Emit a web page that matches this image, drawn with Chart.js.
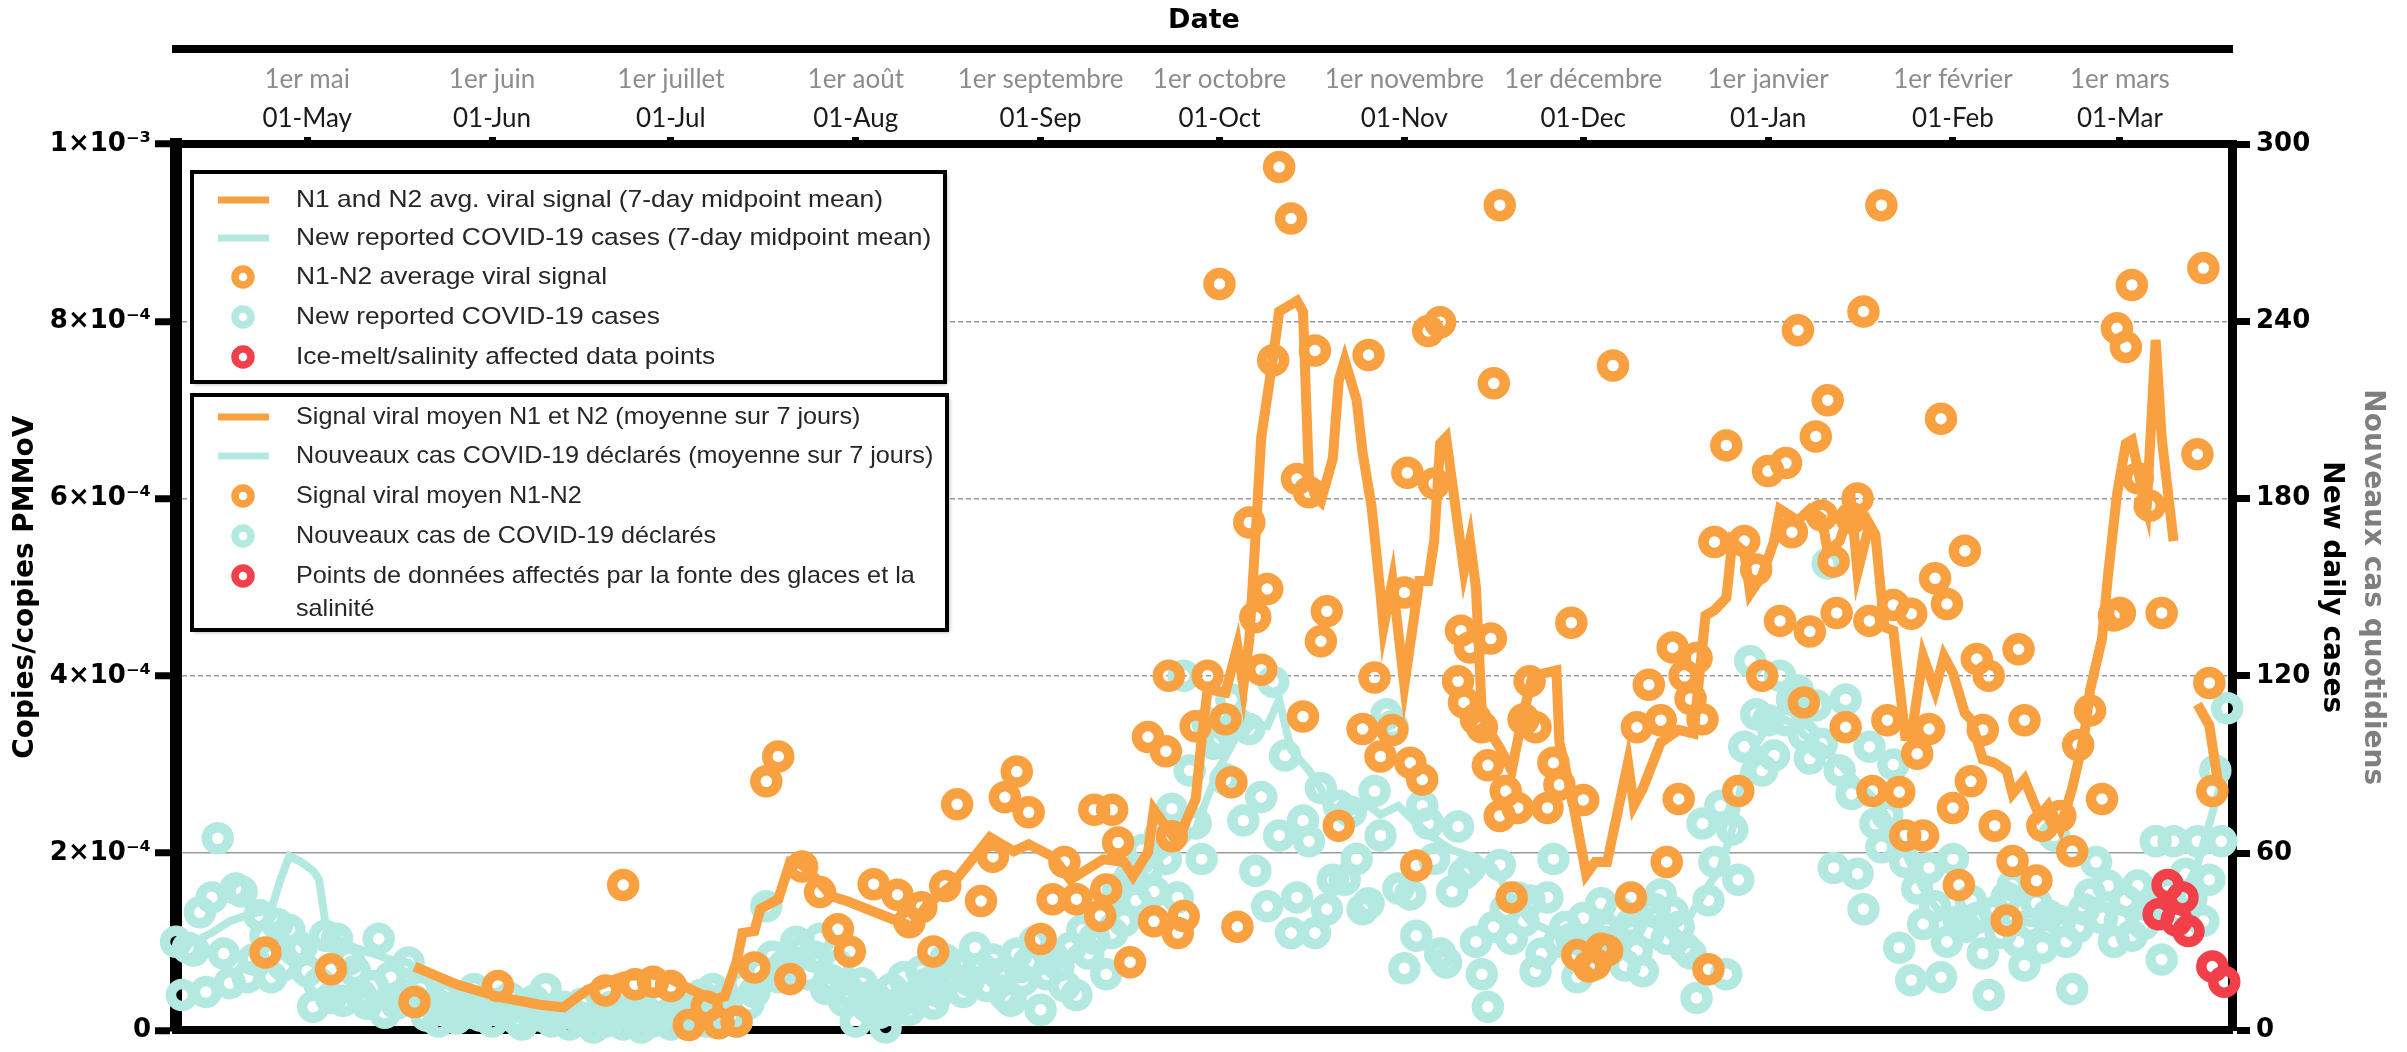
<!DOCTYPE html>
<html>
<head>
<meta charset="utf-8">
<script src="https://cdn.jsdelivr.net/npm/chart.js@4.4.1/dist/chart.umd.min.js"></script>
<style>
  html, body { margin: 0; padding: 0; background: #fff; }
  #wrap { width: 2407px; height: 1052px; position: relative; }
</style>
</head>
<body>
<div id="wrap"><canvas id="chart"></canvas></div>
<script>
// x values are days counted from 1 May 2020 (day 0)
const monthDays = [0, 31, 61, 92, 123, 153, 184, 214, 245, 276, 304];
const monthLabelsEn = ['01-May', '01-Jun', '01-Jul', '01-Aug', '01-Sep', '01-Oct', '01-Nov', '01-Dec', '01-Jan', '01-Feb', '01-Mar'];
const monthLabelsFr = ['1er mai', '1er juin', '1er juillet', '1er août', '1er septembre', '1er octobre', '1er novembre', '1er décembre', '1er janvier', '1er février', '1er mars'];
const dayMin = -22;
const dayMax = 322.8;

const signalTicks = [0, 2, 4, 6, 8, 10];      // x 10^-4
const caseTicks = [0, 60, 120, 180, 240, 300];

// N1-N2 average viral signal (copies/copies PMMoV, x 10^-4)
const signalDays = [-7, 4, 18, 32, 50, 53, 55, 58, 61, 64, 67, 69, 72, 75, 77, 79, 81, 83, 86, 89,
  91, 95, 99, 101, 103, 105, 107, 109, 113, 115, 117, 119, 121, 123, 125, 127, 129, 132, 133, 134,
  135, 136, 138, 141, 142, 144, 144.5, 145, 146, 147, 149, 151, 153, 154, 155, 156, 158, 159, 160, 161,
  162, 163, 165, 166, 167, 168, 169, 170, 171, 173, 177, 178, 179, 180, 182, 184, 184.5, 185, 186, 187,
  188, 189, 190, 193, 193.5, 194, 195, 196, 197, 198, 198.5, 199, 200, 201, 202, 203, 204, 205, 206, 200,
  208, 209, 210, 212, 213, 214, 215, 216, 217, 218, 219, 222, 223, 225, 227, 228, 229, 230, 231, 232,
  233, 234, 235, 236, 238, 240, 241, 243, 244, 245, 247, 248, 249, 250, 251, 252, 253, 254, 255, 256,
  256.5, 258, 259, 260, 261, 262, 262.5, 264, 265, 266, 267, 268, 269, 270, 271, 272, 273, 274, 275, 276,
  277, 278, 279, 280, 281, 282, 283, 285, 286, 287, 288, 290, 291, 294, 296, 297, 299, 301, 303, 303.5,
  304, 305, 306, 307, 309, 311, 317, 318, 319, 319.5];
const signalE4 = [0.88, 0.69, 0.32, 0.50, 0.45, 1.64, 0.52, 0.55, 0.50, 0.06, 0.27, 0.08, 0.10, 0.71, 2.81, 3.09, 0.58, 1.85, 1.56, 1.14,
  0.89, 1.65, 1.53, 1.22, 1.39, 0.89, 1.63, 2.55, 1.46, 1.96, 2.63, 2.92, 2.46, 1.03, 1.48, 1.90, 1.48, 2.49, 1.29, 1.59,
  2.49, 2.12, 0.77, 3.31, 1.23, 3.15, 4.00, 2.19, 1.10, 1.29, 3.43, 4.00, 8.42, 3.51, 2.80, 1.17, 5.73, 4.66, 4.07, 4.98,
  7.56, 9.74, 9.16, 6.22, 3.54, 6.07, 7.67, 4.39, 4.73, 2.31, 3.40, 7.62, 3.98, 3.09, 3.39, 4.94, 6.29, 3.02, 1.86, 2.83,
  7.89, 6.17, 7.99, 3.94, 4.51, 3.70, 4.32, 3.51, 3.42, 2.99, 4.42, 7.30, 2.42, 2.70, 1.50, 2.51, 3.51, 3.94, 3.42, 9.31,
  2.51, 3.02, 2.77, 4.60, 0.85, 2.60, 0.72, 0.75, 0.92, 0.90, 7.50, 1.50, 3.42, 3.90, 3.50, 1.90, 4.32, 2.61, 4.00, 3.74,
  4.20, 3.51, 0.69, 5.51, 6.60, 2.70, 5.52, 5.20, 4.00, 6.31, 4.62, 6.40, 5.62, 7.90, 3.70, 4.50, 6.70, 5.81, 7.11, 5.29,
  4.71, 3.42, 5.78, 6.00, 8.11, 4.62, 2.70, 9.31, 3.50, 4.80, 2.69, 2.20, 4.70, 3.12, 2.20, 3.40, 5.10, 6.90, 4.81, 2.51,
  1.64, 5.41, 2.81, 4.19, 3.39, 4.00, 2.31, 1.24, 1.91, 4.30, 3.50, 1.69, 2.31, 2.42, 2.02, 3.22, 3.61, 2.61, 4.68, 7.92,
  4.71, 7.71, 8.41, 6.23, 5.92, 4.71, 6.50, 8.60, 3.92, 2.70];

// N1 and N2 avg. viral signal, 7-day midpoint mean (x 10^-4); null = gap
const signalMeanDays = [18, 25, 32, 39, 43, 47, 53, 58, 61, 65, 68, 70, 72, 73, 75, 76, 79, 81, 83, 85.5,
  88, 90.5, 99.5, 101.5, 104, 108, 114.5, 118.5, 121, 125, 128, 133.5, 137, 138.5, 141, 142, 144, 146, 147.5, 149,
  150, 151, 154, 156, 157, 158, 159, 160, 162, 163, 166, 167, 168, 169, 170, 172, 173, 174, 176, 177,
  178.5, 180, 180.5, 182, 184, 186.5, 188, 189, 190, 191, 194, 195, 196, 197, 198.5, 200, 202, 203.5, 205.5, 209.5,
  210, 212, 214.5, 216, 218, 221.5, 222.5, 224, 227, 230, 232.5, 234.5, 236, 238, 239, 241, 242, 244, 246, 247,
  250, 252, 254, 255, 257, 259, 260, 262, 263, 264.5, 266, 268, 269, 271, 273, 274.5, 276, 278, 279, 281,
  283, 285, 286, 288, 290.5, 292, 294, 296, 298, 299, 301, 302, 303.5, 305, 306, 307.5, 308.5, 310, 311, 313,
  315, 317, 319, 320.5];
const signalMeanE4 = [0.72, 0.52, 0.38, 0.29, 0.26, 0.46, 0.61, 0.63, 0.58, 0.44, 0.35, 0.38, 0.77, 1.10, 1.12, 1.37, 1.48, 1.90, 1.87, 1.70,
  1.51, 1.46, 1.22, 1.17, 1.42, 1.63, 2.18, 2.02, 2.10, 1.96, 1.70, 1.93, 1.90, 1.74, 2.01, 2.49, 2.30, 2.12, 2.38, 2.61,
  3.28, 3.85, 3.81, 4.33, 3.88, 4.41, 5.52, 6.69, 7.60, 8.11, 8.23, 8.11, 6.23, 6.04, 5.97, 6.45, 7.33, 7.56, 7.11, 6.52,
  5.91, 4.93, 4.55, 5.07, 3.90, 5.07, 5.07, 5.52, 6.62, 6.69, 5.19, 5.52, 5.00, 3.58, 3.35, 3.19, 2.93, 3.44, 4.00, 4.06,
  3.25, 2.67, 1.76, 1.90, 1.90, 3.02, 2.54, 2.73, 3.25, 3.39, 3.35, 4.68, 4.74, 4.88, 5.52, 5.40, 4.93, 5.13, 5.52, 5.88,
  5.75, 5.88, 5.78, 5.40, 5.52, 5.91, 5.17, 5.71, 5.59, 4.55, 4.51, 3.32, 3.32, 4.22, 3.84, 4.22, 4.03, 3.58, 3.51, 3.06,
  3.02, 2.93, 2.67, 2.83, 2.42, 2.54, 2.28, 2.73, 3.32, 3.84, 4.42, 5.13, 6.04, 6.62, 6.66, 6.17, 5.91, 7.79, 6.69, 5.52,
  null, 3.68, 3.44, 2.77];

// Ice-melt / salinity affected samples (x 10^-4)
const iceDays = [310.5, 312, 313.5, 314.5, 315.5, 319.5, 321.5];
const iceE4 = [1.31, 1.64, 1.24, 1.50, 1.12, 0.72, 0.55];

// New reported COVID-19 cases, one value per day from day -22 (9 Apr 2020)
const caseStartDay = -22;
const dailyCases = [
  30, 12, 28, 27, 40, 13, 45, 65, 26, 16,
  48, 47, 18, 24, 39, 32, 18, 36, 22, 34,
  27, 28, 20, 8, 16, 32, 11, 31, 10, 24,
  20, 12, 9, 15, 31, 6, 18, 9, 12, 23,
  10, 14, 5, 9, 3, 12, 7, 4, 10, 6,
  14, 5, 8, 3, 9, 6, 11, 4, 2, 7,
  10, 5, 14, 3, 6, 8, 2, 5, 9, 4,
  1, 6, 3, 8, 5, 2, 7, 4, 1, 6,
  3, 9, 5, 2, 8, 4, 10, 6, 12, 3,
  14, 8, 11, 5, 3, 16, 9, 13, 20, 42,
  25, 18, 22, 23, 30, 27, 19, 25, 31, 14,
  17, 22, 10, 13, 3, 16, 8, 12, 6, 1,
  14, 9, 18, 7, 11, 20, 16, 9, 13, 24,
  18, 22, 13, 17, 28, 21, 15, 24, 19, 12,
  10, 26, 17, 23, 30, 7, 19, 25, 22, 15,
  28, 12, 34, 26, 31, 39, 19, 33, 48, 37,
  52, 44, 61, 55, 47, 66, 58, 75, 45, 120,
  88, 70, 58, 104, 97, 99, 85, 112, 104, 71,
  102, 54, 79, 42, 118, 66, 93, 33, 45, 71,
  64, 33, 82, 41, 51, 76, 51, 74, 58, 41,
  43, 81, 66, 107, 103, 48, 21, 46, 32, 76,
  70, 58, 26, 23, 47, 69, 53, 55, 30, 19,
  8, 35, 56, 41, 31, 45, 37, 44, 20, 26,
  45, 58, 30, 35, 31, 18, 38, 28, 23, 43,
  34, 30, 40, 22, 36, 27, 20, 33, 41, 46,
  31, 40, 35, 28, 26, 11, 70, 44, 57, 76,
  19, 68, 51, 96, 125, 107, 88, 105, 93, 120,
  105, 112, 115, 100, 92, 110, 97, 158, 55, 88,
  112, 80, 53, 41, 96, 70, 62, 73, 90, 28,
  57, 17, 48, 36, 55, 42, 18, 30, 58, 37,
  35, 44, 38, 26, 12, 40, 33, 45, 49, 30,
  22, 36, 43, 28, 39, 66, 37, 30, 14, 35,
  41, 46, 57, 38, 49, 30, 37, 44, 32, 49,
  36, 42, 64, 24, 47, 64, 40, 53, 45, 64,
  37, 51, 88, 64, 109];

// New reported cases, 7-day midpoint mean
const caseMeanDays = [-22, -19, -16, -13, -10, -8, -6, -4.5, -3, -1, 1, 2, 3, 5, 8, 11, 14, 17, 20, 23,
  27, 31, 37, 44, 50, 57, 63, 67, 70, 73, 76, 79, 81, 83, 86, 88, 91, 94, 97, 101,
  104, 108, 111, 114, 117, 120, 124, 128, 132, 135, 138, 141, 144, 146, 149, 151, 153, 156, 159, 161,
  163, 165, 168, 170, 171, 175, 178, 180, 183, 186, 189, 192, 195, 199, 202, 205, 208, 212, 216, 219,
  223, 226, 229, 232, 235, 237, 239, 241, 243, 245, 247, 249, 251, 253, 255, 257, 259, 261, 263, 265,
  267, 269, 271, 273, 275, 278, 281, 284, 287, 290, 293, 296, 299, 302, 305, 308, 311, 313, 315, 317,
  319, 321, 322];
const caseMeanVals = [28, 30, 33, 37, 39, 40, 41, 51, 59, 57, 54, 51, 37, 31, 28, 26, 24, 23, 17, 12,
  9, 8, 7, 6, 6, 6, 7, 9, 10.5, 12, 14, 20, 25, 27, 25, 21, 17, 14, 12.5, 11.5,
  15, 19.6, 19, 18, 17.5, 17.3, 20.7, 26.4, 33, 40, 49, 55, 60, 62, 68, 79, 89, 100, 104, 103,
  112, 95, 88, 82, 76, 74, 76, 73, 76, 70, 65, 61, 59, 55, 45, 37, 34, 32, 34, 34,
  37, 41, 37, 39, 49, 55, 68, 88, 97, 103, 106, 104, 100, 97, 95, 90, 86, 82, 78, 72,
  64, 56, 48, 42, 37, 36, 36, 35, 37, 36, 38, 37, 40, 42, 40, 43, 40, 45, 48, 56,
  70, 84, 90];

const legendEn = [
  ['N1 and N2 avg. viral signal (7-day midpoint mean)'],
  ['New reported COVID-19 cases (7-day midpoint mean)'],
  ['N1-N2 average viral signal'],
  ['New reported COVID-19 cases'],
  ['Ice-melt/salinity affected data points']
];
const legendFr = [
  ['Signal viral moyen N1 et N2 (moyenne sur 7 jours)'],
  ['Nouveaux cas COVID-19 déclarés (moyenne sur 7 jours)'],
  ['Signal viral moyen N1-N2'],
  ['Nouveaux cas de COVID-19 déclarés'],
  ['Points de données affectés par la fonte des glaces et la', 'salinité']
];

const ORANGE = '#f9a040';
const CYAN = '#b4e9e2';
const RED = '#f2404a';

const toPoints = (xs, ys) => xs.map((x, i) => ({ x: x, y: ys[i] }));
const casePoints = dailyCases.map((v, i) => ({ x: caseStartDay + i, y: v }));

const legendKinds = [['line', ORANGE], ['line', CYAN], ['ring', ORANGE], ['ring', CYAN], ['ring', RED]];
const legendBoxes = [
  { x: 192, y: 172, w: 753, h: 210, rows: [200, 238, 277, 317, 357], texts: legendEn, stretch: 1.1 },
  { x: 192, y: 395, w: 755, h: 235, rows: [417, 456, 496, 536, 576], texts: legendFr, stretch: 1.05 }
];

// the two boxed legends drawn inside the plot
const boxedLegends = {
  id: 'boxedLegends',
  afterDatasetsDraw(chart) {
    const ctx = chart.ctx;
    legendBoxes.forEach(box => {
      ctx.save();
      ctx.shadowColor = 'rgba(0,0,0,0.35)';
      ctx.shadowBlur = 4;
      ctx.shadowOffsetX = 2;
      ctx.shadowOffsetY = 2;
      ctx.fillStyle = '#fff';
      ctx.fillRect(box.x, box.y, box.w, box.h);
      ctx.shadowColor = 'transparent';
      ctx.lineWidth = 4;
      ctx.strokeStyle = '#000';
      ctx.strokeRect(box.x, box.y, box.w, box.h);
      ctx.restore();

      box.rows.forEach((y, i) => {
        const [kind, color] = legendKinds[i];
        ctx.save();
        ctx.strokeStyle = color;
        if (kind === 'line') {
          ctx.lineWidth = 7;
          ctx.beginPath();
          ctx.moveTo(box.x + 26, y);
          ctx.lineTo(box.x + 77, y);
          ctx.stroke();
        } else {
          ctx.lineWidth = 7.5;
          ctx.beginPath();
          ctx.arc(box.x + 51, y, 8, 0, Math.PI * 2);
          ctx.stroke();
        }
        ctx.fillStyle = '#262626';
        ctx.font = '24px "Liberation Sans", Arial, sans-serif';
        ctx.textBaseline = 'middle';
        // the original legend text is slightly stretched horizontally
        ctx.translate(box.x + 104, 0);
        ctx.scale(box.stretch, 1);
        box.texts[i].forEach((line, j) => ctx.fillText(line, 0, y + j * 33));
        ctx.restore();
      });
    });
  }
};

const monthTicks = axis => { axis.ticks = monthDays.map(v => ({ value: v })); };
const boldFont = size => ({ family: 'DejaVu Sans', weight: 'bold', size: size });
const monthFont = { family: 'Lato', size: 26 };
const ring = color => ({
  pointRadius: 11, pointBorderWidth: 10.5, pointBorderColor: color, pointBackgroundColor: 'rgba(0,0,0,0)'
});

new Chart(document.getElementById('chart'), {
  type: 'scatter',
  data: {
    datasets: [
      Object.assign({
        label: 'Ice-melt/salinity affected data points',
        data: toPoints(iceDays, iceE4), yAxisID: 'y', order: 0, clip: false
      }, ring(RED)),
      {
        label: 'N1 and N2 avg. viral signal (7-day midpoint mean)',
        data: toPoints(signalMeanDays, signalMeanE4), yAxisID: 'y', order: 1, clip: false,
        showLine: true, spanGaps: false, borderColor: ORANGE, borderWidth: 10, pointRadius: 0
      },
      Object.assign({
        label: 'N1-N2 average viral signal',
        data: toPoints(signalDays, signalE4), yAxisID: 'y', order: 2, clip: false
      }, ring(ORANGE)),
      {
        label: 'New reported COVID-19 cases (7-day midpoint mean)',
        data: toPoints(caseMeanDays, caseMeanVals), yAxisID: 'y1', order: 3, clip: false,
        showLine: true, borderColor: CYAN, borderWidth: 8, pointRadius: 0
      },
      Object.assign({
        label: 'New reported COVID-19 cases',
        data: casePoints, yAxisID: 'y1', order: 4, clip: false
      }, ring(CYAN))
    ]
  },
  options: {
    responsive: true,
    maintainAspectRatio: false,
    animation: false,
    events: [],
    layout: { padding: 0 },
    plugins: { legend: { display: false }, tooltip: { enabled: false }, title: { display: false } },
    scales: {
      x: {
        type: 'linear', position: 'bottom', min: dayMin, max: dayMax,
        ticks: { display: false }, grid: { display: false, drawTicks: false },
        border: { color: '#000', width: 8 },
        afterFit: s => { s.height = 21; }
      },
      xDate: {
        type: 'linear', position: 'top', weight: 3, min: dayMin, max: dayMax,
        ticks: { display: false }, grid: { display: false, drawTicks: false },
        border: { color: '#000', width: 8 },
        title: { display: true, text: 'Date', color: '#000', font: boldFont(27), padding: { top: 5, bottom: 0 } },
        afterFit: s => { s.height = 49; }
      },
      xFr: {
        type: 'linear', position: 'top', weight: 2, min: dayMin, max: dayMax,
        afterBuildTicks: monthTicks,
        ticks: {
          autoSkip: false, maxRotation: 0, minRotation: 0, padding: 3, color: '#8c8c8c', font: monthFont,
          callback: v => monthLabelsFr[monthDays.indexOf(v)]
        },
        grid: { display: false, drawTicks: false }, border: { display: false },
        afterFit: s => { s.height = 49; }
      },
      xEn: {
        type: 'linear', position: 'top', weight: 1, min: dayMin, max: dayMax,
        afterBuildTicks: monthTicks,
        ticks: {
          autoSkip: false, maxRotation: 0, minRotation: 0, padding: 3, color: '#1a1a1a', font: monthFont,
          callback: v => monthLabelsEn[monthDays.indexOf(v)]
        },
        grid: { display: true, drawOnChartArea: false, drawTicks: true, tickLength: 7, tickWidth: 7, tickColor: '#000', color: '#000' },
        border: { color: '#000', width: 8 },
        afterFit: s => { s.height = 46; }
      },
      y: {
        type: 'linear', position: 'left', min: 0, max: 10,
        afterBuildTicks: axis => { axis.ticks = signalTicks.map(v => ({ value: v })); },
        ticks: {
          color: '#000', font: boldFont(26), padding: 4,
          callback: v => (v === 0 ? '0' : v === 10 ? '1×10⁻³' : v + '×10⁻⁴')
        },
        grid: {
          color: c => (c.tick && (c.tick.value === 0 || c.tick.value === 10) ? 'rgba(0,0,0,0)' : '#9a9a9a'),
          lineWidth: 1.5, tickLength: 21, tickWidth: 7, tickColor: '#000'
        },
        border: {
          color: '#000', width: 12,
          dash: c => (c.tick && c.tick.value !== 2 ? [5, 3] : [])
        },
        title: { display: true, text: 'Copies/copies PMMoV', color: '#000', font: boldFont(28), padding: { top: 9, bottom: 0 } },
        afterFit: s => { s.width = 176; }
      },
      y1: {
        type: 'linear', position: 'right', min: 0, max: 300,
        afterBuildTicks: axis => { axis.ticks = caseTicks.map(v => ({ value: v })); },
        ticks: { color: '#000', font: boldFont(26), padding: 6 },
        grid: { drawOnChartArea: false, tickLength: 18, tickWidth: 7, tickColor: '#000', color: '#000' },
        border: { color: '#000', width: 9 },
        title: { display: true, text: 'New daily cases', color: '#000', font: boldFont(28), padding: { top: 14, bottom: 0 } },
        afterFit: s => { s.width = 130; }
      },
      y2: {
        type: 'linear', position: 'right', weight: 1, min: 0, max: 1,
        ticks: { display: false }, grid: { display: false, drawTicks: false }, border: { display: false },
        title: { display: true, text: 'Nouveaux cas quotidiens', color: '#7f7f7f', font: boldFont(28), padding: { top: 18, bottom: 0 } },
        afterFit: s => { s.width = 45; }
      }
    }
  },
  plugins: [boxedLegends]
});
</script>
</body>
</html>
